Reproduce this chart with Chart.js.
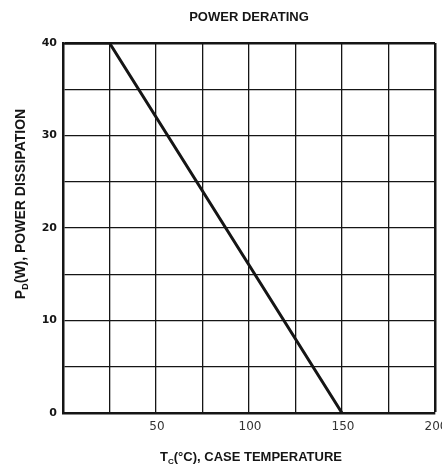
<!DOCTYPE html>
<html>
<head>
<meta charset="utf-8">
<script src="https://cdn.jsdelivr.net/npm/chart.js@4"></script>
<style>
  html, body { margin: 0; padding: 0; background: #fff; }
  #wrap { width: 442px; height: 468px; }
</style>
</head>
<body>
<div id="wrap"><canvas id="myChart" width="442" height="468"></canvas></div>
<script>
// case temperature (°C) vs max power dissipation (W)
const caseTemp = [0, 25, 150];
const powerW = [40, 40, 0];

const xTicks = [50, 100, 150, 200];
const yTicks = [0, 10, 20, 30, 40];

const chartTitle = 'POWER DERATING';

const ink = '#151515';

// title + axis titles with subscripts, drawn on the canvas
const labelsPlugin = {
    id: 'labels',
    afterDraw(chart) {
        const ctx = chart.ctx;
        const a = chart.chartArea;
        ctx.save();
        ctx.fillStyle = ink;
        ctx.textBaseline = 'alphabetic';

        ctx.font = 'bold 13px "Liberation Sans", Arial, sans-serif';
        ctx.textAlign = 'center';
        ctx.fillText(chartTitle, (a.left + a.right) / 2, 21);

        // pieces: [text, subscript?]
        function drawParts(parts, cx, cy, size) {
            const big = 'bold ' + size + 'px "Liberation Sans", Arial, sans-serif';
            const small = 'bold ' + Math.round(size * 0.65) + 'px "Liberation Sans", Arial, sans-serif';
            let total = 0;
            parts.forEach(p => { ctx.font = p[1] ? small : big; total += ctx.measureText(p[0]).width; });
            let x = cx - total / 2;
            ctx.textAlign = 'left';
            parts.forEach(p => {
                ctx.font = p[1] ? small : big;
                ctx.fillText(p[0], x, cy + (p[1] ? 3 : 0));
                x += ctx.measureText(p[0]).width;
            });
        }

        drawParts([['T', false], ['C', true], ['(°C), CASE TEMPERATURE', false]], 251, 461, 13);

        ctx.translate(25, 204);
        ctx.rotate(-Math.PI / 2);
        drawParts([['P', false], ['D', true], ['(W), POWER DISSIPATION', false]], 0, 0, 14);
        ctx.restore();
    }
};

const ctx = document.getElementById('myChart').getContext('2d');
const myChart = new Chart(ctx, {
    type: 'line',
    data: {
        datasets: [{
            data: caseTemp.map((t, i) => ({ x: t, y: powerW[i] })),
            borderColor: ink,
            borderWidth: 3,
            pointRadius: 0,
            tension: 0,
            fill: false
        }]
    },
    options: {
        responsive: false,
        animation: false,
        layout: { padding: { top: 43, right: 7, left: 0, bottom: 0 } },
        plugins: {
            legend: { display: false },
            title: { display: false },
            tooltip: { enabled: false }
        },
        scales: {
            x: {
                type: 'linear',
                min: 0,
                max: 200,
                afterFit(scale) {
                    scale.height = 55;
                    scale.paddingLeft = 0;
                    scale.paddingRight = 0;
                },
                ticks: {
                    stepSize: 25,
                    autoSkip: false,
                    maxRotation: 0,
                    padding: 7,
                    labelOffset: 1,
                    color: '#333',
                    font: { family: '"DejaVu Sans", sans-serif', size: 12 },
                    callback: v => xTicks.includes(v) ? String(v) : ''
                },
                grid: {
                    color: ink,
                    drawTicks: false,
                    lineWidth: c => (c.tick && c.tick.value === 200) ? 2.5 : 1.3
                },
                border: { display: true, color: ink, width: 2.5 }
            },
            y: {
                min: 0,
                max: 40,
                afterFit(scale) {
                    scale.width = 63;
                    scale.paddingTop = 0;
                    scale.paddingBottom = 0;
                },
                ticks: {
                    stepSize: 5,
                    autoSkip: false,
                    padding: 6,
                    color: ink,
                    font: { family: '"DejaVu Sans", sans-serif', size: 11, weight: 'bold' },
                    callback: v => yTicks.includes(v) ? String(v) : ''
                },
                grid: {
                    color: ink,
                    drawTicks: false,
                    lineWidth: c => (c.tick && c.tick.value === 40) ? 2.5 : 1.3
                },
                border: { display: true, color: ink, width: 2.5 }
            }
        }
    },
    plugins: [labelsPlugin]
});
</script>
</body>
</html>
